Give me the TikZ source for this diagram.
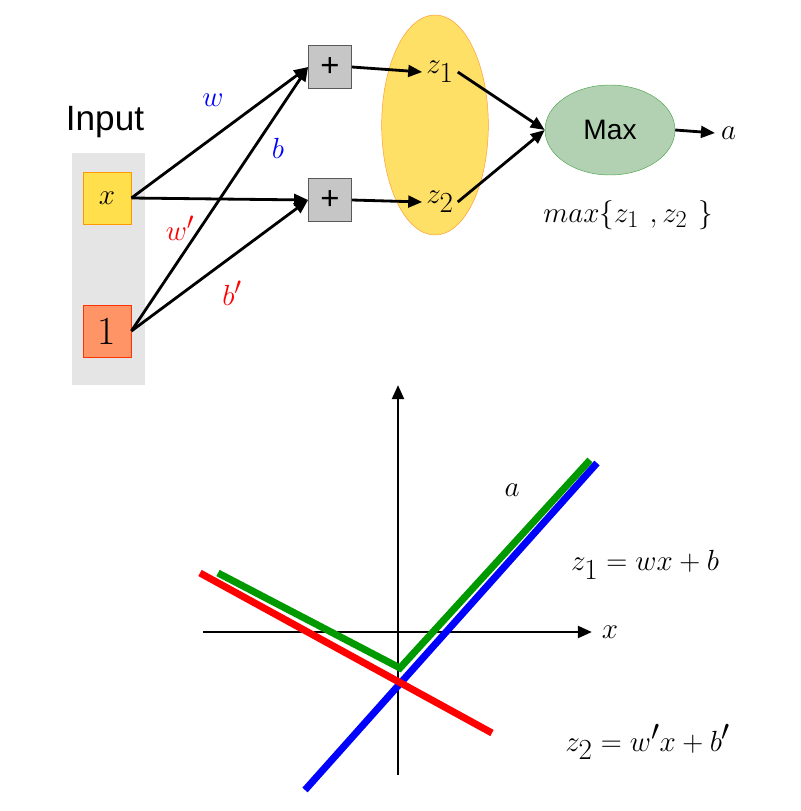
\documentclass[tikz,border=0pt]{standalone}
\usepackage{fontspec}
\newfontfamily\sans{Liberation Sans}
\usetikzlibrary{arrows.meta,shapes.geometric}
\begin{document}
\begin{tikzpicture}[x=0.03cm,y=-0.03cm,
  arr/.style={line width=2.4pt,-{Triangle[length=12pt,width=10pt]}},
  box/.style={draw,minimum width=1.45cm,minimum height=1.55cm,inner sep=0},
  plus/.style={draw=gray!70!black,fill=gray!45,minimum width=1.3cm,minimum height=1.3cm,inner sep=0,font=\sans\fontsize{28}{30}\selectfont},
  lab/.style={font=\fontsize{30}{32}\selectfont},
  big/.style={font=\fontsize{34}{36}\selectfont}]
\useasboundingbox (0,0) rectangle (800,811);
\fill[gray!20] (72,153) rectangle (145,385);
\node[font=\sans\fontsize{30}{32}\selectfont] (in) at (105,122) {Input};
\node[box,draw=orange!80!yellow,fill=orange!35!yellow!70] (x) at (107,198) {\fontsize{34}{36}\selectfont$x$};
\node[box,draw=red!60!orange,fill=red!40!orange!60] (one) at (107,331) {\fontsize{34}{36}\selectfont 1};
\node[plus] (p1) at (330,67) {+};
\node[plus] (p2) at (330,200) {+};
\node[ellipse,draw=orange!80,fill=orange!40!yellow!60,minimum width=3.2cm,minimum height=6.6cm] (ell) at (435,125) {};
\node[big] (z1) at (440,72) {$z_1$};
\node[big] (z2) at (440,202) {$z_2$};
\node[ellipse,draw=green!50!black!70,fill=green!40!black!30!white,minimum width=3.9cm,minimum height=2.7cm,font=\sans\fontsize{24}{26}\selectfont] (mx) at (610,130) {Max};
\coordinate (ae) at (715,133);
\node[big,anchor=west] (a) at (717,133) {$a$};
\node[lab] (mz) at (628,215) {$max\{z_1\ ,z_2\ \}$};
\draw[arr] (x.east) -- (p1.west);
\draw[arr] (x.east) -- (p2.west);
\draw[arr] (one.east) -- (p1.west);
\draw[arr] (one.east) -- (p2.west);
\node[lab,blue] (lw) at (213,100) {$w$};
\node[lab,blue] (lb) at (278,148) {$b$};
\node[lab,red] (lw2) at (180,228) {$w'$};
\node[lab,red] (lb2) at (232,293) {$b'$};
\draw[arr] (p1.east) -- (z1.west);
\draw[arr] (p2.east) -- (z2.west);
\draw[arr] (z1.east) -- (mx.west);
\draw[arr] (z2.east) -- (mx.west);
\draw[arr] (mx.east) -- (ae);
% plot
\coordinate (yb) at (398,775); \coordinate (yt) at (398,385);
\coordinate (xl) at (203,632); \coordinate (xr) at (592,632);
\draw[arr] (yb) -- (yt);
\draw[arr] (xl) -- (xr);
\node[big] (xlab) at (610,632) {$x$};
\draw[blue,line width=6pt] (305,790) -- (597,463);
\draw[red,line width=6pt] (200,573) -- (492,733);
\draw[green!60!black,line width=6pt] (218,573) -- (400,668) -- (590,460);
\node[big] (al) at (512,490) {$a$};
\node[big] (e1) at (645,565) {$z_1=wx+b$};
\node[big] (e2) at (648,742) {$z_2=w'x+b'$};
\end{tikzpicture}
\end{document}
